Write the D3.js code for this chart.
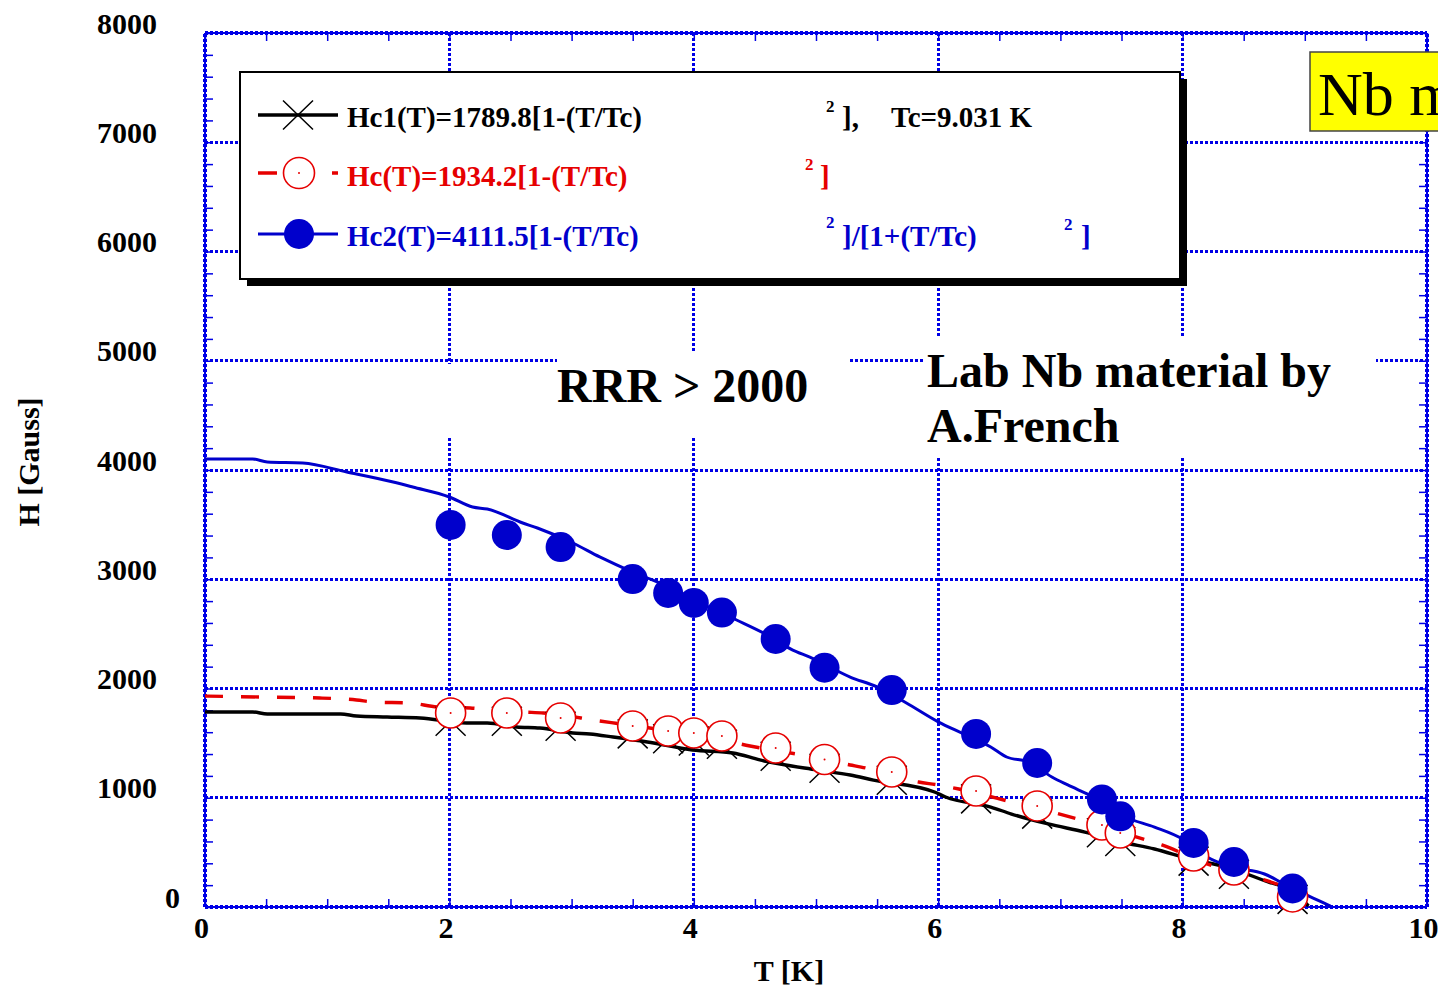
<!DOCTYPE html>
<html>
<head>
<meta charset="UTF-8">
<style>
  body { margin: 0; background: #fff; }
  svg { display: block; }
  text { font-family: "Liberation Serif", "Times New Roman", serif; font-weight: bold; }
</style>
</head>
<body>
<svg width="1438" height="986"></svg>
<script src="https://cdn.jsdelivr.net/npm/d3@7/dist/d3.min.js"></script>
<script>
// measured points, T [K]
const tPoints   = [2.01, 2.47, 2.91, 3.50, 3.79, 4.00, 4.23, 4.67, 5.07, 5.62, 6.31, 6.81, 7.34, 7.49, 8.09, 8.42, 8.90];
const hc1Points = [1700, 1700, 1655, 1585, 1540, 1520, 1490, 1380, 1270, 1160, 990, 850, 680, 600, 420, 300, 70];
const hcPoints  = [1776, 1776, 1730, 1657, 1611, 1593, 1565, 1455, 1350, 1236, 1062, 925, 751, 677, 467, 339, 92];
const hc2Points = [3497, 3405, 3295, 3002, 2874, 2783, 2695, 2453, 2190, 1986, 1584, 1318, 985, 830, 586, 412, 170];

// fit curves, as drawn in the picture
const hc2CurveT = [0, 0.39, 0.51, 0.80, 1.16, 1.54, 1.70, 2.00, 2.19, 2.31, 2.60, 2.72, 3.01, 3.23, 3.50, 3.70, 4.00, 4.35, 4.57, 4.81, 4.95, 5.28, 5.50, 5.74, 6.00, 6.20, 6.43, 6.56, 6.74, 6.93, 7.06, 7.27, 7.53, 7.77, 8.00, 8.20, 8.40, 8.67, 8.83, 9.03, 9.21];
const hc2CurveH = [4101, 4101, 4073, 4064, 3982, 3890, 3844, 3753, 3661, 3643, 3515, 3469, 3332, 3204, 3066, 2975, 2810, 2627, 2508, 2352, 2288, 2105, 2014, 1867, 1695, 1588, 1465, 1373, 1327, 1190, 1117, 1007, 824, 732, 622, 458, 366, 302, 211, 101, 9];

const hcCurveT = [0, 0.45, 0.94, 1.24, 1.38, 1.68, 1.90, 2.17, 2.28, 2.60, 2.77, 3.23, 3.64, 4.05, 4.46, 4.93, 5.28, 5.37, 5.84, 6.00, 6.17, 6.60, 7.17, 7.70, 7.83, 8.20, 8.59, 8.80, 8.99];
const hcCurveH = [1931, 1922, 1913, 1895, 1876, 1867, 1831, 1822, 1812, 1785, 1776, 1703, 1638, 1574, 1474, 1382, 1300, 1281, 1144, 1117, 1080, 961, 796, 613, 568, 394, 275, 197, 92];

const hc1CurveT = [0, 0.39, 0.51, 1.11, 1.24, 1.49, 1.76, 2.14, 2.31, 2.55, 2.74, 3.01, 3.15, 3.34, 3.62, 3.99, 4.32, 4.54, 5.01, 5.28, 5.47, 5.97, 6.06, 6.43, 6.60, 6.90, 7.20, 7.50, 7.77, 8.06, 8.36, 8.70, 8.90, 9.03];
const hc1CurveH = [1785, 1785, 1767, 1767, 1748, 1739, 1730, 1684, 1684, 1648, 1638, 1593, 1584, 1556, 1510, 1437, 1410, 1346, 1254, 1208, 1162, 1053, 1007, 915, 851, 760, 686, 595, 531, 439, 366, 229, 150, 9];

const xTicks = [0, 2, 4, 6, 8, 10];
const yTicks = [0, 1000, 2000, 3000, 4000, 5000, 6000, 7000, 8000];

const BLUE = '#0000cc', GRID = '#0000e6', RED = '#e60000';

const svg = d3.select('svg');
const x = d3.scaleLinear().domain([0, 10]).range([205, 1427]);
const y = d3.scaleLinear().domain([0, 8000]).range([907, 33]);

// grid lines (dotted)
const grid = svg.append('g').attr('shape-rendering', 'crispEdges');
grid.selectAll('line.v')
  .data(xTicks.slice(1, -1))
  .join('line')
  .attr('x1', d => x(d)).attr('x2', d => x(d))
  .attr('y1', y(8000)).attr('y2', y(0))
  .attr('stroke', GRID).attr('stroke-width', 3).attr('stroke-dasharray', '3,2');
grid.selectAll('line.h')
  .data(yTicks.slice(1, -1))
  .join('line')
  .attr('x1', x(0)).attr('x2', x(10))
  .attr('y1', d => y(d)).attr('y2', d => y(d))
  .attr('stroke', GRID).attr('stroke-width', 3).attr('stroke-dasharray', '3,2');

// white backgrounds behind the annotations (they cut the grid)
const masks = [[440, 364, 120, 73], [557, 352, 291, 85], [924, 337, 452, 121]];
svg.append('g').selectAll('rect')
  .data(masks)
  .join('rect')
  .attr('x', d => d[0]).attr('y', d => d[1])
  .attr('width', d => d[2]).attr('height', d => d[3])
  .attr('fill', '#fff');

// frame
const frame = svg.append('g').attr('shape-rendering', 'crispEdges');
const sides = [[0, 0, 10, 0], [0, 8000, 10, 8000], [0, 0, 0, 8000], [10, 0, 10, 8000]];
frame.selectAll('line.s')
  .data(sides)
  .join('line')
  .attr('x1', d => x(d[0])).attr('y1', d => y(d[1]))
  .attr('x2', d => x(d[2])).attr('y2', d => y(d[3]))
  .attr('stroke', GRID).attr('stroke-width', 1.5);
frame.selectAll('line.d')
  .data(sides)
  .join('line')
  .attr('x1', d => x(d[0])).attr('y1', d => y(d[1]))
  .attr('x2', d => x(d[2])).attr('y2', d => y(d[3]))
  .attr('stroke', GRID).attr('stroke-width', 3.5).attr('stroke-dasharray', '3,2');

// minor ticks on all four sides
const xMinor = d3.range(0, 10.01, 0.5);
const yMinor = d3.range(0, 8001, 200);
const tickStyle = g => {
  g.select('.domain').remove();
  g.selectAll('.tick line').attr('stroke', GRID).attr('stroke-width', 1.5);
};
svg.append('g').attr('transform', `translate(0,${y(0)})`)
  .call(d3.axisBottom(x).tickValues(xMinor).tickSize(-8).tickFormat('')).call(tickStyle);
svg.append('g').attr('transform', `translate(0,${y(8000)})`)
  .call(d3.axisTop(x).tickValues(xMinor).tickSize(-8).tickFormat('')).call(tickStyle);
svg.append('g').attr('transform', `translate(${x(0)},0)`)
  .call(d3.axisLeft(y).tickValues(yMinor).tickSize(-8).tickFormat('')).call(tickStyle);
svg.append('g').attr('transform', `translate(${x(10)},0)`)
  .call(d3.axisRight(y).tickValues(yMinor).tickSize(-8).tickFormat('')).call(tickStyle);

// tick labels
const yAxis = svg.append('g').attr('transform', `translate(${x(0)},0)`)
  .call(d3.axisLeft(y).tickValues(yTicks).tickFormat(d3.format('d')).tickSize(0).tickPadding(48));
yAxis.select('.domain').remove();
yAxis.selectAll('text')
  .attr('dy', 0)
  .attr('x', d => d === 0 ? -25 : -48)
  .attr('fill', '#000')
  .style('font-size', '30px').style('font-family', '"Liberation Serif", serif').style('font-weight', 'bold');

const xAxis = svg.append('g').attr('transform', `translate(0,${y(0)})`)
  .call(d3.axisBottom(x).tickValues(xTicks).tickFormat(d3.format('d')).tickSize(0).tickPadding(31));
xAxis.select('.domain').remove();
xAxis.selectAll('text')
  .attr('dy', 0)
  .attr('dx', -4)
  .attr('fill', '#000')
  .style('font-size', '30px').style('font-family', '"Liberation Serif", serif').style('font-weight', 'bold');

// axis titles
svg.append('text').attr('x', 789).attr('y', 981).attr('text-anchor', 'middle')
  .style('font-size', '30px').text('T [K]');
svg.append('text').attr('transform', 'translate(39,462) rotate(-90)').attr('text-anchor', 'middle')
  .style('font-size', '30px').text('H [Gauss]');

// curves
const line = d3.line().x(d => x(d[0])).y(d => y(d[1])).curve(d3.curveMonotoneX);
svg.append('path').datum(d3.zip(hc1CurveT, hc1CurveH))
  .attr('d', line).attr('fill', 'none').attr('stroke', '#000').attr('stroke-width', 3.4);
svg.append('path').datum(d3.zip(hcCurveT, hcCurveH))
  .attr('d', line).attr('fill', 'none').attr('stroke', RED).attr('stroke-width', 3.4)
  .attr('stroke-dasharray', '18,18');
svg.append('path').datum(d3.zip(hc2CurveT, hc2CurveH))
  .attr('d', line).attr('fill', 'none').attr('stroke', BLUE).attr('stroke-width', 3);

// markers
const cross = 'M-15,-14.5L15,14.5M-15,14.5L15,-14.5';
svg.append('g').selectAll('path')
  .data(d3.zip(tPoints, hc1Points))
  .join('path')
  .attr('transform', d => `translate(${x(d[0])},${y(d[1])})`)
  .attr('d', cross).attr('stroke', '#000').attr('stroke-width', 1.5).attr('fill', 'none');

const hcG = svg.append('g').selectAll('g')
  .data(d3.zip(tPoints, hcPoints))
  .join('g')
  .attr('transform', d => `translate(${x(d[0])},${y(d[1])})`);
hcG.append('circle').attr('r', 15).attr('fill', '#fff').attr('stroke', RED).attr('stroke-width', 1.6);
hcG.append('circle').attr('r', 1).attr('fill', RED);

svg.append('g').selectAll('circle')
  .data(d3.zip(tPoints, hc2Points))
  .join('circle')
  .attr('cx', d => x(d[0])).attr('cy', d => y(d[1]))
  .attr('r', 15).attr('fill', BLUE);

// annotations
svg.append('text').attr('x', 557).attr('y', 402).style('font-size', '48px').text('RRR > 2000');
svg.append('text').attr('x', 927).attr('y', 387).style('font-size', '48px').text('Lab Nb material by');
svg.append('text').attr('x', 927).attr('y', 442).style('font-size', '48px').text('A.French');

svg.append('rect').attr('x', 1310).attr('y', 52).attr('width', 140).attr('height', 79)
  .attr('fill', '#ffff00').attr('stroke', '#444').attr('stroke-width', 1.5);
svg.append('text').attr('x', 1318).attr('y', 115)
  .style('font-size', '62px').style('font-weight', 'normal').text('Nb material');

// legend
const lg = svg.append('g');
lg.append('rect').attr('x', 247).attr('y', 79).attr('width', 940).attr('height', 207).attr('fill', '#000');
lg.append('rect').attr('x', 240).attr('y', 72).attr('width', 940).attr('height', 207)
  .attr('fill', '#fff').attr('stroke', '#000').attr('stroke-width', 2);

lg.append('line').attr('x1', 258).attr('x2', 338).attr('y1', 115).attr('y2', 115)
  .attr('stroke', '#000').attr('stroke-width', 3.4);
lg.append('path').attr('transform', 'translate(298,115)').attr('d', cross)
  .attr('stroke', '#000').attr('stroke-width', 1.5);

lg.append('line').attr('x1', 258).attr('x2', 338).attr('y1', 173).attr('y2', 173)
  .attr('stroke', RED).attr('stroke-width', 3.4).attr('stroke-dasharray', '19,18');
lg.append('circle').attr('cx', 299).attr('cy', 173).attr('r', 15.5)
  .attr('fill', '#fff').attr('stroke', RED).attr('stroke-width', 1.6);
lg.append('circle').attr('cx', 299).attr('cy', 173).attr('r', 1).attr('fill', RED);

lg.append('line').attr('x1', 258).attr('x2', 338).attr('y1', 234).attr('y2', 234)
  .attr('stroke', BLUE).attr('stroke-width', 3);
lg.append('circle').attr('cx', 299).attr('cy', 234).attr('r', 15).attr('fill', BLUE);

const legendText = [
  [347, 127, 29, '#000', 'Hc1(T)=1789.8[1-(T/Tc)'],
  [826, 112, 17, '#000', '2'],
  [842, 127, 29, '#000', '],'],
  [891, 127, 29, '#000', 'Tc=9.031 K'],
  [347, 186, 29, RED, 'Hc(T)=1934.2[1-(T/Tc)'],
  [805, 170, 17, RED, '2'],
  [820, 186, 29, RED, ']'],
  [347, 246, 29, BLUE, 'Hc2(T)=4111.5[1-(T/Tc)'],
  [826, 228, 17, BLUE, '2'],
  [842, 246, 29, BLUE, ']/[1+(T/Tc)'],
  [1064, 230, 17, BLUE, '2'],
  [1081, 246, 29, BLUE, ']']
];
lg.selectAll('text')
  .data(legendText)
  .join('text')
  .attr('x', d => d[0]).attr('y', d => d[1])
  .attr('fill', d => d[3])
  .style('font-size', d => d[2] + 'px')
  .text(d => d[4]);
</script>
</body>
</html>
